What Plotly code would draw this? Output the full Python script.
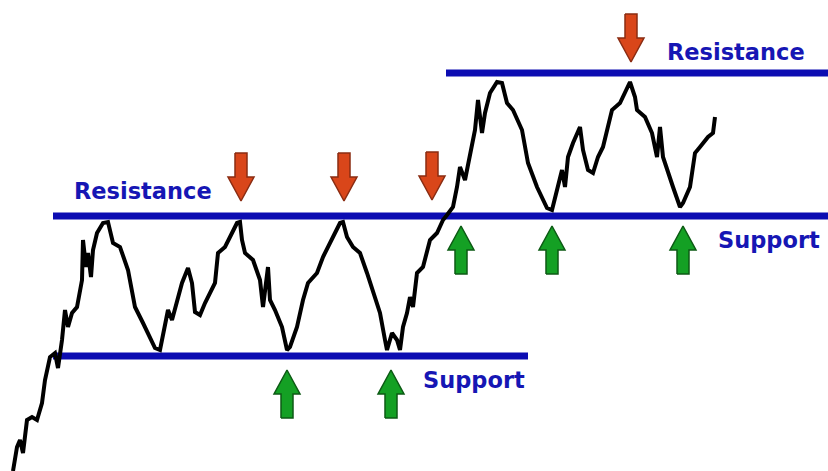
"""Support / resistance illustration (Plotly).

Axes are in picture units: x = time, y = level measured from the top (reversed axis).
"""
import plotly.graph_objects as go

# price path (time, level-from-top)
price_x = [13, 17, 20, 23, 27, 32, 37, 42, 45, 50, 55, 58, 62, 65, 68, 72, 77, 82, 83, 86,
           88, 91, 93, 97, 103, 108, 113, 120, 128, 135, 143, 155, 160, 165, 168, 172, 177, 182, 188, 192,
           195, 200, 205, 210, 215, 218, 225, 232, 237, 240, 242, 245, 253, 260, 263, 268, 270, 275, 282, 287,
           290, 297, 303, 308, 317, 323, 332, 340, 343, 347, 353, 360, 367, 373, 380, 385, 387, 392, 397, 400,
           403, 407, 410, 413, 417, 423, 430, 437, 443, 447, 453, 457, 460, 465, 470, 475, 478, 482, 485, 490,
           497, 502, 507, 513, 522, 528, 537, 547, 552, 557, 562, 565, 568, 573, 580, 583, 588, 593, 598, 603,
           608, 612, 620, 627, 630, 635, 637, 645, 652, 657, 660, 663, 667, 673, 680, 683, 690, 695, 700, 708,
           713, 715]
price_y = [471, 447, 440, 453, 420, 417, 420, 403, 380, 357, 353, 368, 340, 310, 327, 313, 307, 280, 240, 267,
           253, 277, 250, 233, 223, 222, 243, 247, 270, 307, 323, 348, 350, 323, 310, 320, 300, 283, 268, 283,
           312, 315, 303, 293, 283, 253, 247, 233, 223, 222, 240, 253, 260, 280, 307, 267, 300, 310, 327, 350,
           347, 327, 300, 283, 273, 257, 240, 223, 222, 237, 247, 253, 273, 293, 313, 340, 350, 333, 340, 350,
           327, 313, 297, 307, 273, 267, 240, 233, 220, 215, 207, 187, 167, 180, 153, 130, 100, 133, 113, 93,
           82, 83, 103, 110, 130, 163, 187, 208, 210, 190, 170, 187, 157, 143, 127, 150, 170, 173, 157, 147,
           127, 110, 103, 87, 82, 97, 110, 117, 133, 157, 127, 157, 170, 187, 207, 203, 187, 153, 147, 137,
           133, 117]

# horizontal levels: (level, start, end)
level_y = [356, 216, 73]
level_x0 = [53, 53, 446]
level_x1 = [528, 828, 828]

# arrow tips
down_x = [241, 344, 432, 631]
down_y = [201, 201, 200, 62]
up_x = [287, 391, 461, 552, 683]
up_y = [370, 370, 226, 226, 226]

# labels
label_text = ["Resistance", "Resistance", "Support", "Support"]
label_x = [72, 665, 421, 716]
label_y = [191, 52, 380, 240]

BLUE = "#0c0cb2"
TEXT_BLUE = "#1616b4"
RED = "#d9461a"
RED_EDGE = "#8a2c12"
GREEN = "#14a024"
GREEN_EDGE = "#0c5a14"

SHAFT = 6
HEAD = 13
HEAD_LEN = 24
LENGTH = 48


def arrow_shape(x, y, sign):
    # sign=+1: arrow pointing down (body above tip); -1: pointing up
    s = -sign
    xs = [x - SHAFT, x + SHAFT, x + SHAFT, x + HEAD, x, x - HEAD, x - SHAFT, x - SHAFT]
    ys = [y + s * LENGTH, y + s * LENGTH, y + s * HEAD_LEN, y + s * HEAD_LEN, y,
          y + s * HEAD_LEN, y + s * HEAD_LEN, y + s * LENGTH]
    return xs, ys


fig = go.Figure()

# 水平支撑/阻力线
for ly, x0, x1 in zip(level_y, level_x0, level_x1):
    fig.add_trace(go.Scatter(x=[x0, x1], y=[ly, ly], mode="lines",
                             line=dict(color=BLUE, width=7), hoverinfo="skip"))

# price line
fig.add_trace(go.Scatter(x=price_x, y=price_y, mode="lines",
                         line=dict(color="black", width=4), hoverinfo="skip"))

for x, y in zip(down_x, down_y):
    xs, ys = arrow_shape(x, y, 1)
    fig.add_trace(go.Scatter(x=xs, y=ys, mode="lines", fill="toself", fillcolor=RED,
                             line=dict(color=RED_EDGE, width=1.5), hoverinfo="skip"))
for x, y in zip(up_x, up_y):
    xs, ys = arrow_shape(x, y, -1)
    fig.add_trace(go.Scatter(x=xs, y=ys, mode="lines", fill="toself", fillcolor=GREEN,
                             line=dict(color=GREEN_EDGE, width=1.5), hoverinfo="skip"))

for t, x, y in zip(label_text, label_x, label_y):
    fig.add_annotation(x=x, y=y, text=f"<b>{t}</b>", showarrow=False,
                       xanchor="left", yanchor="middle",
                       font=dict(family="DejaVu Sans", size=22.5, color=TEXT_BLUE))

fig.update_layout(
    width=828, height=471,
    margin=dict(l=0, r=0, t=0, b=0),
    paper_bgcolor="white", plot_bgcolor="white",
    showlegend=False,
    xaxis=dict(range=[0, 828], visible=False, fixedrange=True),
    yaxis=dict(range=[471, 0], visible=False, fixedrange=True),
)

# page body has a default 8px margin; drop it so the figure fills the window
fig.write_html("out.html", config={"displayModeBar": False},
               post_script="document.body.style.margin='0';document.body.style.overflow='hidden';")
